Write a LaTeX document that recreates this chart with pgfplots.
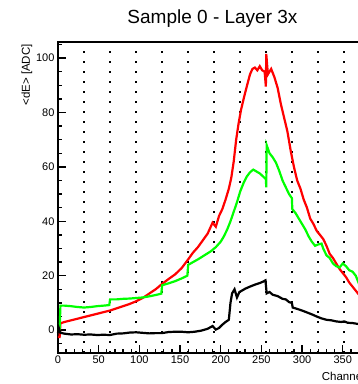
\documentclass[border=0pt]{standalone}
\usepackage{fontspec}
\setmainfont{Liberation Sans}
\usepackage{pgfplots}
\pgfplotsset{compat=1.18}
\begin{document}
\begin{tikzpicture}
\useasboundingbox (0,0) rectangle (358pt,384pt);
\begin{axis}[
  at={(58pt,31.3pt)}, anchor=south west,
  scale only axis, width=312.4pt, height=310.7pt,
  xmin=0, xmax=384, ymin=-8.3, ymax=105.9,
  axis line style={line width=1.6pt},
  xtick={0,50,...,350}, minor x tick num=4,
  ytick={0,20,...,100}, minor y tick num=3,
  tick align=inside, xtick pos=bottom, ytick pos=left,
  major tick length=8pt, minor tick length=4pt,
  tick style={black, line width=1.3pt},
  ticklabel style={font=\fontsize{11}{13}\selectfont},
  /pgf/number format/assume math mode=true,
  clip=false,
]
\pgfplotsinvokeforeach{32,64,96,128,160,192,224,256,288,320,352}{
  \draw[black, line width=2pt, dash pattern=on 2pt off 8pt] (axis cs:#1,-8.3) -- (axis cs:#1,105.9);
}
\pgfplotsinvokeforeach{0,50,100,150,200,250,300,350}{
  \draw[black, line width=1.3pt] (axis cs:#1,-8.3) -- (axis cs:#1,-5.36);
}
\pgfplotsinvokeforeach{10,20,30,40,60,70,80,90,110,120,130,140,160,170,180,190,210,220,230,240,260,270,280,290,310,320,330,340,360,370,380}{
  \draw[black, line width=1.3pt] (axis cs:#1,-8.3) -- (axis cs:#1,-6.83);
}
\pgfplotsinvokeforeach{0,20,40,60,80,100}{
  \draw[black, line width=1.3pt] (axis cs:0,#1) -- (axis cs:9.83,#1);
}
\pgfplotsinvokeforeach{-5,5,10,15,25,30,35,45,50,55,65,70,75,85,90,95,105}{
  \draw[black, line width=1.3pt] (axis cs:0,#1) -- (axis cs:4.92,#1);
}
\addplot[red, line width=2.2pt, no marks] coordinates {
(0,-2.5)(2,-2.5)(3,2.5)(8,3)(16,3.6)(24,4.2)(32,4.8)(40,5.4)(48,6)(56,6.6)(64,7.2)(72,8)(80,8.8)(88,9.6)(96,10.6)(104,11.8)(112,13.4)(120,15)(128,17)(136,18.8)(144,20.5)(152,22.8)(160,26)(166,28.5)(172,30.5)(178,33)(184,35.5)(190,39.5)(194,38)(198,42)(202,44.5)(206,48)(210,52)(213,56)(216,62)(219,70)(222,76)(225,81)(229,86)(232,89.5)(236,94)(239,96)(242,96.5)(245,95.5)(248,97)(251,95.5)(254,95)(255.5,89.5)(256,101.5)(258,94)(262,96)(266,93)(270,89)(274,83)(278,78)(282,73)(286,66)(290,60)(294,55)(298,52)(302,48)(306,45)(310,41)(314,39)(318,36.5)(322,35)(326,33.5)(330,31)(334,28)(338,26.5)(342,24.5)(346,22.5)(350,21)(354,19.5)(358,17.5)(362,16)(366,14.5)(370,13)(376,11)(383,9)
};
\addplot[green, line width=2.2pt, no marks] coordinates {
(0,0)(2,0)(3,9)(8,9)(16,8.8)(24,8.5)(32,8.3)(40,8.5)(48,8.8)(56,9)(63,9.2)(64,11.3)(72,11.3)(80,11.5)(88,11.6)(96,11.8)(104,12)(112,12.4)(120,12.9)(127,13.4)(128,16.5)(136,17.2)(144,18)(152,19)(159,20)(160,24)(166,25)(172,26)(180,27.5)(188,29)(194,30.5)(200,32.5)(204,34.5)(208,37)(212,40)(216,43.5)(220,47)(224,51)(228,54)(232,56.4)(236,58)(240,59)(244,58.3)(248,57.6)(252,56.5)(255.5,55.5)(256,52.5)(256.5,68)(260,65)(264,63.5)(268,61.5)(272,58.5)(276,55)(280,52.5)(284,50)(287.5,48.5)(288,44.5)(292,43)(296,41)(300,39)(304,37)(308,34.5)(312,32.5)(316,31)(320,31.5)(324,31.8)(326,30)(330,27.5)(334,26.5)(338,24.5)(342,23.5)(346,23)(350,24.5)(354,23.5)(358,22)(362,21.5)(366,20)(370,17)(376,14)(383,11)
};
\addplot[black, line width=2.2pt, no marks] coordinates {
(0,-1)(1,0.8)(3,-1)(8,-1.3)(16,-1.6)(24,-1.5)(32,-1.7)(40,-1.6)(48,-1.8)(56,-1.7)(64,-1.8)(72,-1.3)(80,-1.2)(88,-0.9)(96,-0.8)(104,-1)(112,-1.2)(120,-1.1)(128,-1.1)(136,-0.7)(144,-0.6)(152,-0.6)(160,-0.8)(168,-0.6)(176,-0.2)(184,0.5)(190,1.5)(194,0.2)(198,0.8)(202,2)(206,3)(210,3.8)(212,10)(214,13.5)(217,15)(220,12)(223,14)(226,14.5)(230,15.2)(236,16)(242,16.7)(248,17.3)(252,17.8)(255,18.3)(256.5,13.5)(260,14)(264,13)(270,12.5)(276,11.5)(280,11.3)(284,10.3)(287.5,10)(288.5,8.3)(294,7.8)(300,7.2)(306,6.5)(312,5.8)(318,5)(324,4.3)(330,3.8)(336,3.6)(342,3.2)(348,3)(352,3.2)(356,2.7)(362,2.6)(368,2.3)(376,2)(383,1.8)
};
\end{axis}
\node[anchor=base, font=\fontsize{19}{22}\selectfont] at (212.5pt,360.7pt) {Sample 0 - Layer 3x};
\node[anchor=base east, rotate=90, inner sep=0pt, font=\fontsize{11.5}{13}\selectfont] at (30pt,340pt) {<dE> [ADC]};
\node[anchor=base west, inner sep=0pt, font=\fontsize{11.5}{13}\selectfont] at (321.7pt,3.5pt) {Channel};
\end{tikzpicture}
\end{document}
